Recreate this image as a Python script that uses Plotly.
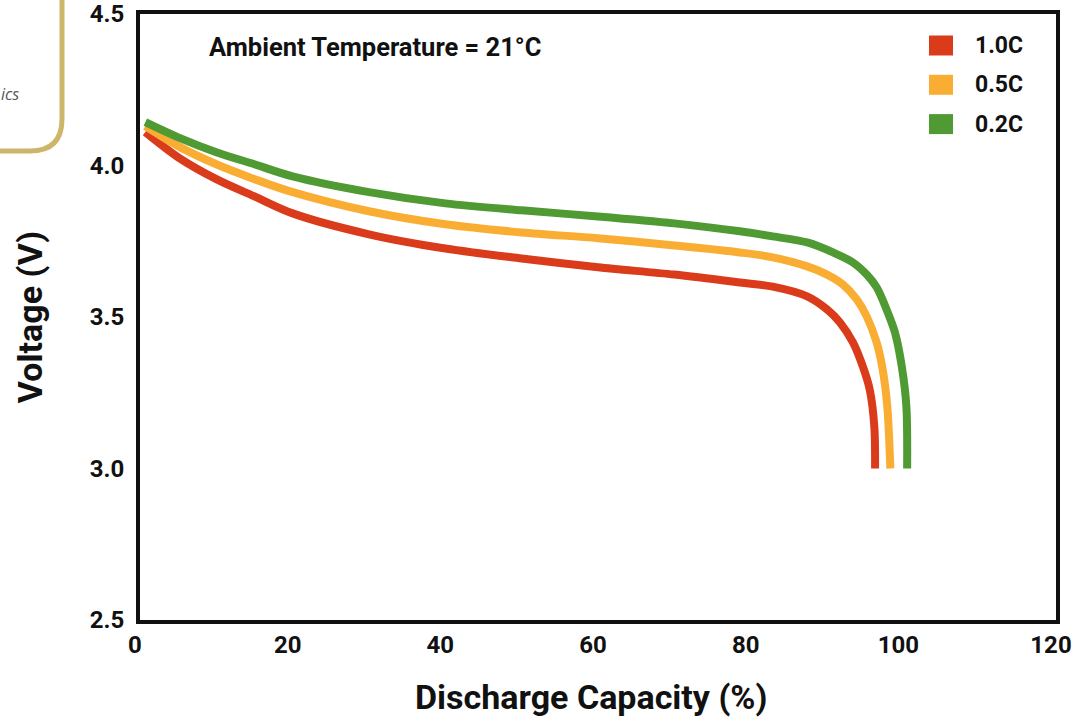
import plotly.graph_objects as go

# Discharge curves at 21 °C for three C-rates
rates = ["1.0C", "0.5C", "0.2C"]
colors = ["#da3b1b", "#f9ae33", "#4f9a32"]

cap_10 = [0.7, 5, 10, 15, 20, 30, 40, 50, 60, 70, 78.6, 82.9, 87.4,
          90.0, 91.7, 93.4, 94.7, 95.6, 96.2, 96.3]
volt_10 = [4.11, 4.027, 3.955, 3.898, 3.842, 3.773, 3.726, 3.693, 3.664, 3.64, 3.614, 3.60, 3.568,
           3.525, 3.482, 3.416, 3.336, 3.26, 3.138, 3.00]

cap_05 = [0.7, 5, 10, 15, 20, 30, 40, 50, 60, 70, 78.6, 82.9, 87.4, 90.0, 92.1,
          93.9, 95.2, 96.5, 97.3, 97.9, 98.3]
volt_05 = [4.13, 4.064, 4.004, 3.955, 3.912, 3.849, 3.806, 3.779, 3.76, 3.736, 3.713, 3.697,
           3.667, 3.64, 3.607, 3.558, 3.502, 3.416, 3.326, 3.204, 3.00]

cap_02 = [0.7, 5, 10, 15, 20, 30, 40, 50, 60, 70, 78.6, 82.9, 87.4, 90.8, 93.4,
          95.2, 96.5, 97.8, 98.9, 99.8, 100.4, 100.5]
volt_02 = [4.143, 4.093, 4.044, 4.004, 3.964, 3.912, 3.875, 3.852, 3.832, 3.809, 3.783, 3.766,
           3.746, 3.713, 3.68, 3.64, 3.598, 3.525, 3.449, 3.336, 3.204, 3.00]

x_ticks = [0, 20, 40, 60, 80, 100, 120]
y_ticks = [2.5, 3.0, 3.5, 4.0, 4.5]

caps = [cap_10, cap_05, cap_02]
volts = [volt_10, volt_05, volt_02]

FONT = "Roboto, Liberation Sans, sans-serif"

W, H = 1088, 724
ML, MR, MT, MB = 140, 32, 14, 104
PW, PH = W - ML - MR, H - MT - MB


def px(x):
    return (x - ML) / PW


def py(y):
    return (H - MB - y) / PH


def bold_font(size):
    return dict(family=FONT, size=size, color="#111", weight="bold")


fig = go.Figure()
for name, c, xs, ys in zip(rates, colors, caps, volts):
    fig.add_trace(go.Scatter(
        x=xs, y=ys, mode="lines", name=name,
        line=dict(color=c, width=8, shape="spline", smoothing=0.9),
        showlegend=False,
    ))

# legend: coloured squares with bold labels
for i, (name, c) in enumerate(zip(rates, colors)):
    yc = 45.5 + i * 39.3
    fig.add_shape(type="rect", xref="paper", yref="paper",
                  x0=px(929), x1=px(953), y0=py(yc - 10), y1=py(yc + 10),
                  fillcolor=c, line=dict(width=0))
    fig.add_annotation(xref="paper", yref="paper", x=px(973), y=py(yc),
                       text=name, showarrow=False,
                       xanchor="left", yanchor="middle", font=bold_font(23))

fig.add_annotation(xref="paper", yref="paper", x=px(207), y=py(47),
                   text="Ambient Temperature = 21°C", showarrow=False,
                   xanchor="left", yanchor="middle", font=bold_font(25.5))

# x-axis title
fig.add_annotation(xref="paper", yref="paper", x=px(591), y=py(697),
                   text="Discharge Capacity (%)", showarrow=False,
                   xanchor="center", yanchor="middle", font=bold_font(34))

# rounded gold frame of the neighbouring panel
x0, x1, y0, y1, r = -40, 62, -40, 151, 32
path = ("M {a},{b} L {c},{b} Q {d},{b} {d},{e} L {d},{f} Q {d},{g} {c},{g} L {a},{g}"
        .format(a=px(x0), b=py(y0), c=px(x1 - r), d=px(x1), e=py(y0 + r),
                f=py(y1 - r), g=py(y1)))
fig.add_shape(type="path", xref="paper", yref="paper", path=path,
              line=dict(color="#cdb56a", width=5), layer="above")
fig.add_annotation(xref="paper", yref="paper", x=px(21), y=py(94),
                   text="<i>ics</i>", showarrow=False, xanchor="right",
                   yanchor="middle",
                   font=dict(family="Open Sans, sans-serif", size=16, color="#555"))

axis_common = dict(
    showgrid=False, zeroline=False, showline=True, linecolor="#111",
    linewidth=4, mirror=True, ticks="", automargin=False,
    ticklabeloverflow="allow",
    tickfont=bold_font(24),
)

fig.update_layout(
    width=W, height=H,
    margin=dict(l=ML, r=MR, t=MT, b=MB, autoexpand=False),
    paper_bgcolor="white", plot_bgcolor="white",
    xaxis=dict(
        range=[0, 120], tickvals=x_ticks,
        ticktext=["%d" % v for v in x_ticks],
        ticklabelstandoff=0, ticklabelshift=-5,
        **axis_common,
    ),
    yaxis=dict(
        range=[2.5, 4.5], tickvals=y_ticks,
        ticktext=["%.1f" % v for v in y_ticks],
        title=dict(text="Voltage (V)", standoff=38, font=bold_font(34)),
        ticklabelstandoff=7,
        **axis_common,
    ),
)

fig.write_html("out.html")
